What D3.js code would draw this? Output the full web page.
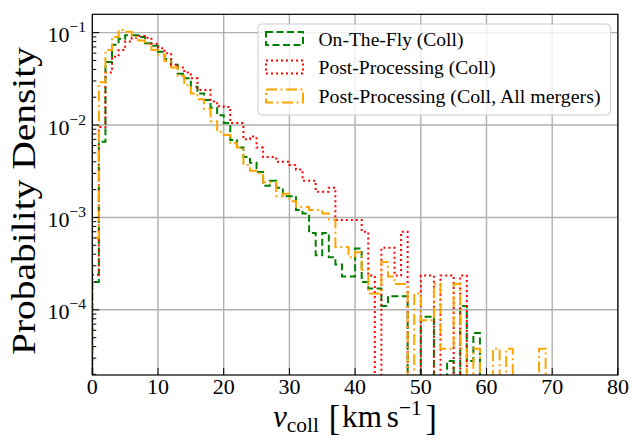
<!DOCTYPE html>
<html>
<head>
<meta charset="utf-8">
<script src="https://cdn.jsdelivr.net/npm/d3@7"></script>
<style>
  body { margin: 0; background: #fff; }
  svg { display: block; }
</style>
</head>
<body>
<svg id="chart" width="633" height="441"></svg>
<script>
// Histogram bins: width 1 km/s, starting at 0
const binStart = 0;
const binWidth = 1;

// Probability density per bin
const onTheFly = [
  2.0e-4, 6.6e-3, 4.8e-2, 7.4e-2, 8.6e-2, 9.4e-2, 9.4e-2, 9.0e-2, 7.7e-2, 7.2e-2,
  6.2e-2, 5.2e-2, 4.5e-2, 3.6e-2, 3.2e-2, 2.6e-2, 2.2e-2, 1.87e-2, 1.54e-2, 1.28e-2,
  1.05e-2, 6.9e-3, 5.7e-3, 4.5e-3, 3.9e-3, 3.1e-3, 2.2e-3, 2.5e-3, 2.1e-3, 1.7e-3,
  1.7e-3, 1.2e-3, 1.1e-3, 6.8e-4, 3.9e-4, 6.8e-4, 3.7e-4, 3.1e-4, 2.3e-4, 2.3e-4,
  4.6e-4, 2.0e-4, 1.7e-4, 1.7e-4, 1.1e-4, 1.4e-4, 1.4e-4, 1.4e-4, 0, 0,
  8.4e-5, 8.4e-5, 0, 0, 2.8e-5, 0, 1.1e-4, 2.8e-5, 5.6e-5
];
const postProcessing = [
  2.4e-4, 9.5e-3, 3.7e-2, 5.5e-2, 6.5e-2, 8.0e-2, 8.8e-2, 9.2e-2, 8.8e-2, 7.6e-2,
  6.8e-2, 6.0e-2, 4.5e-2, 4.2e-2, 3.7e-2, 3.2e-2, 2.4e-2, 2.4e-2, 1.8e-2, 1.6e-2,
  1.57e-2, 1.05e-2, 1.05e-2, 7.0e-3, 7.5e-3, 5.7e-3, 4.5e-3, 4.5e-3, 4.0e-3, 4.0e-3,
  3.7e-3, 3.3e-3, 2.5e-3, 2.5e-3, 1.9e-3, 1.9e-3, 2.1e-3, 9.4e-4, 9.4e-4, 9.4e-4,
  9.4e-4, 7.0e-4, 2.35e-4, 0, 4.7e-4, 4.7e-4, 2.35e-4, 7.0e-4, 0, 0,
  2.35e-4, 2.35e-4, 0, 2.35e-4, 2.35e-4, 0, 2.35e-4
];
const postProcessingAll = [
  6.0e-4, 2.9e-2, 6.5e-2, 9.0e-2, 1.07e-1, 1.02e-1, 9.0e-2, 8.2e-2, 7.5e-2, 6.5e-2,
  5.8e-2, 4.9e-2, 4.2e-2, 3.4e-2, 2.7e-2, 2.2e-2, 1.9e-2, 1.5e-2, 1.1e-2, 8.4e-3,
  7.8e-3, 6.4e-3, 5.7e-3, 3.7e-3, 3.2e-3, 3.0e-3, 2.4e-3, 2.4e-3, 1.7e-3, 1.8e-3,
  1.5e-3, 1.3e-3, 1.3e-3, 1.2e-3, 1.2e-3, 1.1e-3, 9.5e-4, 4.8e-4, 4.8e-4, 3.7e-4,
  4.2e-4, 2.7e-4, 1.5e-4, 1.5e-4, 3.3e-4, 2.3e-4, 1.9e-4, 1.9e-4, 0, 1.5e-4,
  7.7e-5, 7.7e-5, 1.9e-4, 3.8e-5, 3.8e-5, 1.9e-4, 3.8e-5, 0, 3.8e-5, 0,
  0, 3.8e-5, 0, 3.8e-5, 0, 0, 0, 0, 3.8e-5
];

const seriesLabels = [
  "On-The-Fly (Coll)",
  "Post-Processing (Coll)",
  "Post-Processing (Coll, All mergers)"
];
const xTickValues = [0, 10, 20, 30, 40, 50, 60, 70, 80];
const yTickExponents = [-4, -3, -2, -1];

// ---- layout ----
const serif = "'Liberation Serif', 'DejaVu Serif', serif";
const plot = { left: 92.3, right: 617.9, top: 14.3, bottom: 375 };

const svg = d3.select("#chart");

const x = d3.scaleLinear().domain([0, 80]).range([plot.left, plot.right]);
const y = d3.scaleLog().domain([1.97e-5, 0.158]).range([plot.bottom, plot.top]);

svg.append("defs").append("clipPath").attr("id", "plotClip")
  .append("rect")
  .attr("x", plot.left).attr("y", plot.top)
  .attr("width", plot.right - plot.left).attr("height", plot.bottom - plot.top);

// grid
const grid = svg.append("g").attr("stroke", "#b0b0b0").attr("stroke-width", 1.4);
xTickValues.forEach(v => {
  grid.append("line").attr("x1", x(v)).attr("x2", x(v))
    .attr("y1", plot.top).attr("y2", plot.bottom);
});
yTickExponents.forEach(e => {
  grid.append("line").attr("x1", plot.left).attr("x2", plot.right)
    .attr("y1", y(Math.pow(10, e))).attr("y2", y(Math.pow(10, e)));
});

// step histograms
const floorValue = 1e-9;
function stepPoints(values) {
  const pts = [[binStart, floorValue]];
  values.forEach((v, i) => {
    const lo = binStart + i * binWidth, hi = lo + binWidth;
    const val = v > 0 ? v : floorValue;
    pts.push([lo, val], [hi, val]);
  });
  pts.push([binStart + values.length * binWidth, floorValue]);
  return pts;
}
const line = d3.line()
  .x(d => x(d[0]))
  .y(d => Math.min(y(d[1]), plot.bottom + 20));

const series = [
  { values: onTheFly, color: "#008000", dash: "7,3.5" },
  { values: postProcessing, color: "#ff0000", dash: "2,3" },
  { values: postProcessingAll, color: "#ffa500", dash: "11,3.5,2,3.5" }
];

const marks = svg.append("g").attr("clip-path", "url(#plotClip)");
series.forEach(s => {
  marks.append("path")
    .attr("d", line(stepPoints(s.values)))
    .attr("fill", "none")
    .attr("stroke", s.color)
    .attr("stroke-width", 2)
    .attr("stroke-dasharray", s.dash)
    .attr("stroke-linejoin", "miter");
});

// frame
svg.append("rect")
  .attr("x", plot.left).attr("y", plot.top)
  .attr("width", plot.right - plot.left).attr("height", plot.bottom - plot.top)
  .attr("fill", "none").attr("stroke", "#000").attr("stroke-width", 1.2);

// x ticks + labels
const axisG = svg.append("g").attr("stroke", "#000").attr("stroke-width", 1);
xTickValues.forEach(v => {
  axisG.append("line").attr("x1", x(v)).attr("x2", x(v))
    .attr("y1", plot.bottom).attr("y2", plot.bottom - 7);
  svg.append("text")
    .attr("x", x(v)).attr("y", 394)
    .attr("text-anchor", "middle")
    .style("font-family", serif).style("font-size", "22px")
    .text(v);
});

// y ticks (major + minor) + labels
yTickExponents.forEach(e => {
  const yy = y(Math.pow(10, e));
  axisG.append("line").attr("x1", plot.left).attr("x2", plot.left + 7)
    .attr("y1", yy).attr("y2", yy);
  const t = svg.append("text")
    .attr("x", 86).attr("y", yy + 9.5)
    .attr("text-anchor", "end")
    .style("font-family", serif).style("font-size", "22px");
  t.append("tspan").text("10");
  t.append("tspan").attr("dy", -10).style("font-size", "15.5px").text("\u2212" + Math.abs(e));
});
for (let e = -5; e <= -1; e++) {
  for (let k = 2; k <= 9; k++) {
    const v = k * Math.pow(10, e);
    if (v < y.domain()[0] || v > y.domain()[1]) continue;
    const yy = y(v);
    axisG.append("line").attr("x1", plot.left).attr("x2", plot.left + 4)
      .attr("y1", yy).attr("y2", yy);
  }
}

// axis titles
svg.append("text")
  .attr("transform", "translate(35,201) rotate(-90)")
  .attr("text-anchor", "middle")
  .attr("textLength", 308).attr("lengthAdjust", "spacingAndGlyphs")
  .style("font-family", serif).style("font-size", "33px")
  .text("Probability Density");

const xl = svg.append("text")
  .attr("x", 0).attr("y", 427)
  .style("font-family", serif).style("font-size", "32px");
xl.append("tspan").style("font-style", "italic").text("v");
xl.append("tspan").attr("dy", 5).style("font-size", "22px").text("coll");
xl.append("tspan").attr("dy", -2).attr("dx", 10).style("font-size", "35px").text("[");
xl.append("tspan").attr("dy", -3).attr("dx", 2).text("km");
xl.append("tspan").attr("dx", 5).text("s");
xl.append("tspan").attr("dy", -12).style("font-size", "22px").text("\u22121");
xl.append("tspan").attr("dy", 15).attr("dx", 4).style("font-size", "35px").text("]");
{
  const bb = xl.node().getBBox();
  const target = 164, cx = 355;
  const sx = target / bb.width;
  xl.attr("transform", `translate(${cx},0) scale(${sx},1) translate(${-(bb.x + bb.width / 2)},0)`);
}

// legend
const legend = svg.append("g");
legend.append("rect")
  .attr("x", 258).attr("y", 24).attr("width", 352.5).attr("height", 91)
  .attr("rx", 4).attr("ry", 4)
  .attr("fill", "#fff").attr("fill-opacity", 0.8)
  .attr("stroke", "#cccccc").attr("stroke-width", 1);
const legendRows = [
  { top: 32, base: 45.5, width: 145 },
  { top: 60.5, base: 74, width: 177 },
  { top: 89.5, base: 103, width: 282 }
];
series.forEach((s, i) => {
  const r = legendRows[i];
  legend.append("rect")
    .attr("x", 266).attr("y", r.top).attr("width", 37).attr("height", 13)
    .attr("fill", "none").attr("stroke", s.color).attr("stroke-width", 2)
    .attr("stroke-dasharray", s.dash);
  legend.append("text")
    .attr("x", 318.5).attr("y", r.base)
    .attr("textLength", r.width).attr("lengthAdjust", "spacingAndGlyphs")
    .style("font-family", serif).style("font-size", "18.5px")
    .text(seriesLabels[i]);
});
</script>
</body>
</html>
